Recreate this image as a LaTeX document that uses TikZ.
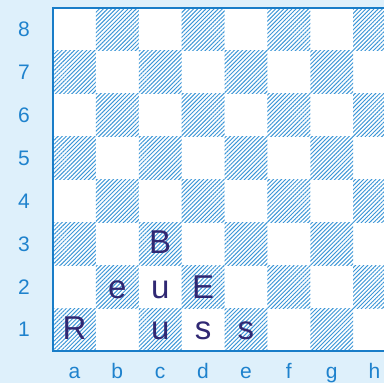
\documentclass[tikz,border=0pt]{standalone}
\usepackage{fontspec}
\setmainfont{Liberation Sans}
\usetikzlibrary{patterns.meta}
\definecolor{bgblue}{RGB}{222,240,251}
\definecolor{edgeblue}{RGB}{25,125,200}
\definecolor{labelblue}{RGB}{30,130,205}
\definecolor{hatchblue}{RGB}{60,150,215}
\definecolor{piececol}{RGB}{48,40,115}
\tikzset{
  hatched/.style={pattern={Lines[angle=45,distance=2.9pt,line width=0.95pt]},pattern color=hatchblue},
  rankl/.style={text=labelblue,font=\fontsize{21}{24}\selectfont,anchor=center},
  filel/.style={text=labelblue,font=\fontsize{21}{24}\selectfont,anchor=base,inner sep=0pt},
  piece/.style={text=piececol,font=\fontsize{33}{38}\selectfont,anchor=base,inner sep=0pt},
}
\begin{document}
\begin{tikzpicture}[x=1pt,y=1pt]
\def\sq{42.875}
\fill[bgblue] (0,0) rectangle (384,383);
\useasboundingbox (0,0) rectangle (384,383);
\begin{scope}
\clip (0,0) rectangle (384,383);
\fill[white] (53,32) rectangle (400,375);
\foreach \i in {0,...,7}{
  \foreach \j in {0,...,7}{
    \pgfmathtruncatemacro\s{mod(\i+\j,2)}
    \ifnum\s=0
      \fill[hatched] ({53+\i*\sq},{32+\j*\sq}) rectangle ({53+(\i+1)*\sq},{32+(\j+1)*\sq});
    \fi
  }
}
\draw[edgeblue,line width=1.5pt] (400,375) -- (53,375);
\draw[edgeblue,line width=2.2pt] (53,376) -- (53,32) -- (400,32);
\end{scope}
% rank labels
\foreach \r [count=\k from 0] in {1,...,8}{
  \node[rankl] (rank\r) at (24,{32+(\k+0.5)*\sq}) {\r};
}
% file labels
\foreach \f [count=\k from 0] in {a,b,c,d,e,f,g,h}{
  \node[filel] (file\f) at ({53+(\k+0.5)*\sq},4.5) {\f};
}
% pieces
\node[piece] (pR) at ({53+0.5*\sq},{32+0*\sq+11}) {R};
\node[piece] (pu1) at ({53+2.5*\sq},{32+0*\sq+11}) {u};
\node[piece] (ps1) at ({53+3.5*\sq},{32+0*\sq+11}) {s};
\node[piece] (ps2) at ({53+4.5*\sq},{32+0*\sq+11}) {s};
\node[piece] (pe) at ({53+1.5*\sq},{32+1*\sq+10}) {e};
\node[piece] (pu2) at ({53+2.5*\sq},{32+1*\sq+10}) {u};
\node[piece] (pE) at ({53+3.5*\sq},{32+1*\sq+10}) {E};
\node[piece] (pB) at ({53+2.5*\sq},{32+2*\sq+12}) {B};
\end{tikzpicture}
\end{document}
